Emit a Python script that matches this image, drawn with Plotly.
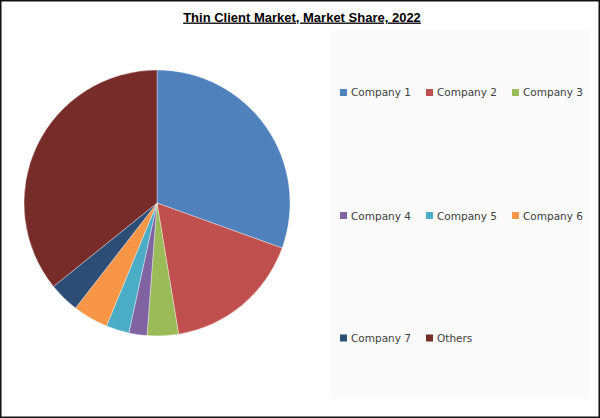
import plotly.graph_objects as go

title = "Thin Client Market, Market Share, 2022"
labels = ["Company 1", "Company 2", "Company 3", "Company 4",
          "Company 5", "Company 6", "Company 7", "Others"]
shares = [30.5, 16.9, 3.8, 2.2, 2.8, 4.3, 3.7, 35.8]
colors = ["#4f81bd", "#c0504d", "#9bbb59", "#8064a2",
          "#4bacc6", "#f79646", "#2c4d75", "#772c2a"]

W, H = 600, 418
cx, cy, r = 157, 203, 133

fig = go.Figure(go.Pie(
    labels=labels, values=shares, sort=False, direction="clockwise",
    rotation=0, textinfo="none", hoverinfo="label+percent",
    marker=dict(colors=colors, line=dict(color="rgba(255,255,255,0.6)", width=0.6)),
    domain=dict(x=[(cx - r) / W, (cx + r) / W],
                y=[(H - cy - r) / H, (H - cy + r) / H]),
    showlegend=False,
))

shapes = []
annotations = []

# legend panel background
shapes.append(dict(type="rect", xref="paper", yref="paper",
                   x0=331 / W, x1=590 / W, y0=(H - 399) / H, y1=(H - 30) / H,
                   fillcolor="#fafafa", line=dict(width=0), layer="below"))

# legend entries (3 per row)
col_x = [340, 426, 512]
row_y = [92.5, 215.5, 338]
for i, (name, col) in enumerate(zip(labels, colors)):
    mx = col_x[i % 3]
    my = row_y[i // 3]
    shapes.append(dict(type="rect", xref="paper", yref="paper",
                       x0=mx / W, x1=(mx + 7) / W,
                       y0=(H - my - 3.5) / H, y1=(H - my + 3.5) / H,
                       fillcolor=col, line=dict(width=0)))
    annotations.append(dict(text=name, xref="paper", yref="paper",
                            x=(mx + 9) / W, y=(H - my) / H,
                            xanchor="left", yanchor="middle", showarrow=False,
                            font=dict(family="DejaVu Sans", size=10.5, color="#404040")))

# outer border
shapes.append(dict(type="rect", xref="paper", yref="paper",
                   x0=0, x1=1, y0=0, y1=1,
                   line=dict(color="#111111", width=3), fillcolor="rgba(0,0,0,0)"))

fig.update_layout(
    width=W, height=H,
    margin=dict(l=0, r=0, t=0, b=0),
    paper_bgcolor="white", plot_bgcolor="white",
    title=dict(text="<b><u>" + title + "</u></b>", x=302 / W, xanchor="center",
               y=(H - 17) / H, yanchor="middle",
               font=dict(family="Liberation Sans", size=13, color="#000000")),
    shapes=shapes, annotations=annotations,
)

fig.write_html("out.html", config={"displayModeBar": False},
               post_script="document.body.style.margin='0';document.body.style.overflow='hidden';")
